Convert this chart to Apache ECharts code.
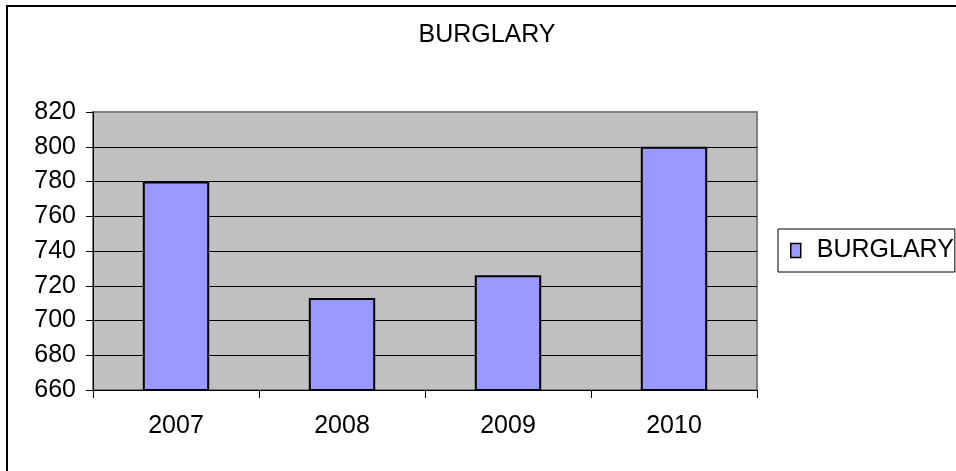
<!DOCTYPE html>
<html>
<head>
<meta charset="utf-8">
<script src="https://cdn.jsdelivr.net/npm/echarts@6/dist/echarts.min.js"></script>
<style>
  html, body { margin: 0; padding: 0; background: #fff; }
  #chart { width: 956px; height: 471px; }
</style>
</head>
<body>
<div id="chart"></div>
<script>
// Yearly burglary counts
const years = ['2007', '2008', '2009', '2010'];
const burglary = [780, 713, 726, 800];
const seriesName = 'BURGLARY';

const FONT = 'Liberation Sans, Arial, sans-serif';
const SIZE = 25;

// grid lines: black inside the plot, grey on the top edge (820)
const splitColors = ['#000', '#000', '#000', '#000', '#000', '#000', '#000', '#000', '#808080'];

const chart = echarts.init(document.getElementById('chart'));
chart.setOption({
  animation: false,
  backgroundColor: '#fff',
  textStyle: { fontFamily: FONT },
  title: {
    text: 'BURGLARY',
    left: 487,
    textAlign: 'center',
    top: 23,
    padding: 0,
    textStyle: { fontFamily: FONT, fontSize: SIZE, fontWeight: 'normal', color: '#000' }
  },
  legend: {
    data: [seriesName],
    left: 778,
    top: 229,
    orient: 'vertical',
    padding: [9, 1, 9, 12],
    borderColor: '#000',
    borderWidth: 1,
    itemWidth: 10,
    itemHeight: 14,
    icon: 'rect',
    itemStyle: { borderColor: '#000', borderWidth: 1.5 },
    textStyle: { fontFamily: FONT, fontSize: SIZE, color: '#000', padding: [0, 0, 0, 11] }
  },
  grid: {
    left: 93,
    right: 199,
    top: 112,
    bottom: 81,
    show: true,
    backgroundColor: '#C0C0C0',
    borderColor: '#808080',
    borderWidth: 2
  },
  xAxis: {
    type: 'category',
    data: years,
    boundaryGap: true,
    axisLine: { show: true, lineStyle: { color: '#000', width: 1 } },
    axisTick: { show: true, length: 8, inside: false, lineStyle: { color: '#000' } },
    axisLabel: { fontFamily: FONT, fontSize: SIZE, color: '#000', margin: 24 },
    splitLine: { show: false }
  },
  yAxis: {
    type: 'value',
    min: 660,
    max: 820,
    interval: 20,
    axisLine: { show: true, lineStyle: { color: '#000', width: 1 } },
    axisTick: { show: true, length: 7, inside: false, lineStyle: { color: '#000' } },
    axisLabel: { fontFamily: FONT, fontSize: SIZE, color: '#000', margin: 17 },
    splitLine: { show: true, lineStyle: { color: splitColors, width: 1 } }
  },
  series: [{
    name: seriesName,
    type: 'bar',
    data: burglary,
    barWidth: '40%',
    itemStyle: { color: '#9999FF', borderColor: '#000', borderWidth: 2 }
  }],
  graphic: [{
    type: 'rect',
    shape: { x: 7, y: 6, width: 1000, height: 600 },
    style: { fill: null, stroke: '#000', lineWidth: 2 },
    silent: true,
    z: 100
  }]
});
</script>
</body>
</html>
